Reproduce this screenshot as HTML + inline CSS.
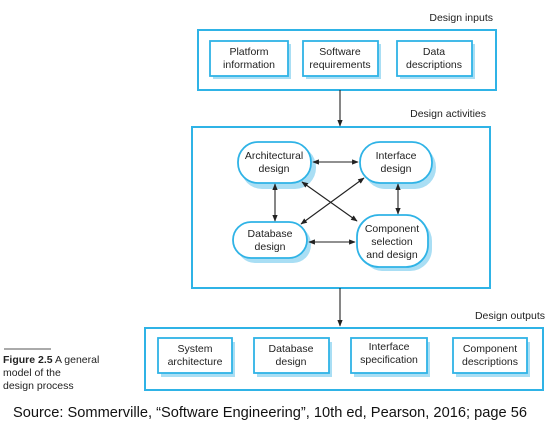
<!DOCTYPE html>
<html><head><style>
body{margin:0;width:560px;height:429px;background:#fff;overflow:hidden;font-family:"Liberation Sans",sans-serif;}
</style></head><body>
<svg width="560" height="429" xmlns="http://www.w3.org/2000/svg" font-family="Liberation Sans, sans-serif" font-size="10.5" fill="#222">
<defs>
<marker id="a" viewBox="0 0 10 10" refX="9" refY="5" markerWidth="6" markerHeight="6" orient="auto-start-reverse"><path d="M0,1 L10,5 L0,9 z" fill="#222"/></marker>
</defs>
<g fill="none" stroke="#2fb3e6" stroke-width="2">
<rect x="198" y="30" width="298" height="60"/>
<rect x="192" y="127" width="298" height="161"/>
<rect x="145" y="328" width="398" height="62"/>
</g>
<g fill="#a9def4"><rect x="213" y="44" width="78" height="35"/><rect x="306" y="44" width="75" height="35"/><rect x="400" y="44" width="75" height="35"/>
<rect x="161" y="342" width="74" height="35"/><rect x="257" y="342" width="75" height="35"/><rect x="354" y="342" width="76" height="35"/><rect x="456" y="342" width="74" height="35"/>
<rect x="241" y="146" width="75" height="43" rx="21"/><rect x="364" y="146" width="72" height="43" rx="21"/><rect x="237" y="226" width="74" height="37" rx="18"/><rect x="361" y="219" width="71" height="52" rx="22"/></g>
<g fill="#fff" stroke="#2fb3e6" stroke-width="1.8">
<rect x="210" y="41" width="78" height="35"/><rect x="303" y="41" width="75" height="35"/><rect x="397" y="41" width="75" height="35"/>
<rect x="158" y="338" width="74" height="35"/><rect x="254" y="338" width="75" height="35"/><rect x="351" y="338" width="76" height="35"/><rect x="453" y="338" width="74" height="35"/>
<rect x="238" y="142" width="73" height="41" rx="20"/><rect x="360" y="142" width="72" height="41" rx="20"/><rect x="233" y="222" width="74" height="36" rx="18"/><rect x="357" y="215" width="71" height="52" rx="22"/>
</g>
<g text-anchor="middle">
<text x="249" y="55">Platform</text><text x="249" y="68">information</text>
<text x="340" y="55">Software</text><text x="340" y="68">requirements</text>
<text x="434" y="55">Data</text><text x="434" y="68">descriptions</text>
<text x="274" y="159">Architectural</text><text x="274" y="172">design</text>
<text x="396" y="159">Interface</text><text x="396" y="172">design</text>
<text x="270" y="237">Database</text><text x="270" y="250">design</text>
<text x="392" y="232">Component</text><text x="392" y="245">selection</text><text x="392" y="258">and design</text>
<text x="195" y="352">System</text><text x="195" y="365">architecture</text>
<text x="291" y="352">Database</text><text x="291" y="365">design</text>
<text x="389" y="350">Interface</text><text x="389" y="363">specification</text>
<text x="490" y="352">Component</text><text x="490" y="365">descriptions</text>
</g>
<g text-anchor="end"><text x="493" y="21">Design inputs</text><text x="486" y="117">Design activities</text><text x="545" y="319">Design outputs</text></g>
<g stroke="#222" stroke-width="1.1">
<line x1="340" y1="90" x2="340" y2="126" marker-end="url(#a)"/>
<line x1="340" y1="288" x2="340" y2="326" marker-end="url(#a)"/>
<line x1="313" y1="162" x2="358" y2="162" marker-start="url(#a)" marker-end="url(#a)"/>
<line x1="275" y1="184" x2="275" y2="221" marker-start="url(#a)" marker-end="url(#a)"/>
<line x1="398" y1="184" x2="398" y2="214" marker-start="url(#a)" marker-end="url(#a)"/>
<line x1="309" y1="242" x2="355" y2="242" marker-start="url(#a)" marker-end="url(#a)"/>
<line x1="302" y1="182" x2="357" y2="221" marker-start="url(#a)" marker-end="url(#a)"/>
<line x1="364" y1="178" x2="301" y2="224" marker-start="url(#a)" marker-end="url(#a)"/>
</g>
<line x1="4" y1="349" x2="51" y2="349" stroke="#555" stroke-width="1"/>
<text x="3" y="363" font-size="10.5"><tspan font-weight="bold">Figure 2.5</tspan> A general</text>
<text x="3" y="376" font-size="10.5">model of the</text>
<text x="3" y="389" font-size="10.5">design process</text>
<text x="13" y="417" font-size="14.5" fill="#111" textLength="514" lengthAdjust="spacingAndGlyphs">Source: Sommerville, “Software Engineering”, 10th ed, Pearson, 2016; page 56</text>
</svg>
</body></html>
